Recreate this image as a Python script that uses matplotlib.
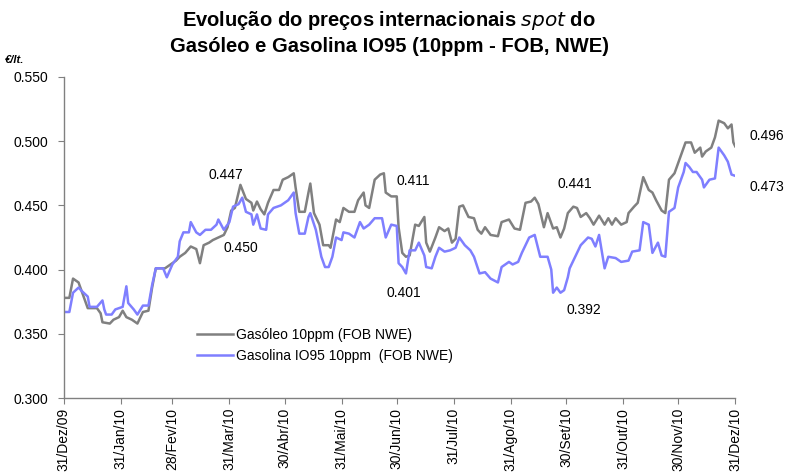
import matplotlib
matplotlib.use('Agg')
import matplotlib.pyplot as plt
import pandas as pd

plt.rcParams['font.family'] = ['Liberation Sans', 'DejaVu Sans']

START = '2009-12-31'

# days since 31/Dez/09
gasoleo_days = [
    0, 3, 5, 8, 10, 13, 18, 20, 21, 25,
    27, 30, 32, 34, 37, 40, 43, 46, 48, 50,
    55, 58, 61, 63, 66, 69, 72, 74, 76, 79,
    81, 84, 87, 89, 91, 93, 96, 99, 102, 103,
    105, 107, 109, 111, 114, 117, 119, 122, 125, 126,
    128, 131, 133, 134, 136, 139, 141, 144, 145, 148,
    150, 152, 155, 158, 160, 163, 164, 166, 169, 172,
    174, 175, 178, 181, 182, 184, 186, 188, 191, 193,
    196, 197, 199, 202, 204, 207, 209, 211, 213, 215,
    217, 220, 223, 225, 227, 229, 232, 236, 238, 242,
    245, 248, 251, 254, 256, 258, 261, 263, 266, 268,
    270, 272, 274, 277, 279, 281, 284, 286, 288, 291,
    294, 296, 298, 300, 303, 306, 307, 310, 312, 315,
    318, 320, 322, 325, 327, 329, 332, 334, 337, 338,
    341, 343, 346, 347, 349, 352, 354, 356, 359, 361,
    363, 364, 365]
gasoleo = [
    0.378, 0.378, 0.393, 0.390, 0.382, 0.370, 0.370, 0.366, 0.359, 0.358,
    0.361, 0.363, 0.368, 0.363, 0.361, 0.358, 0.367, 0.368, 0.386, 0.401,
    0.401, 0.404, 0.407, 0.410, 0.413, 0.418, 0.416, 0.405, 0.419, 0.421,
    0.423, 0.425, 0.427, 0.433, 0.446, 0.448, 0.466, 0.455, 0.452, 0.446,
    0.453, 0.447, 0.443, 0.452, 0.462, 0.462, 0.470, 0.472, 0.475, 0.464,
    0.445, 0.445, 0.460, 0.467, 0.444, 0.435, 0.419, 0.419, 0.417, 0.439,
    0.437, 0.448, 0.445, 0.445, 0.454, 0.460, 0.450, 0.448, 0.470, 0.474,
    0.475, 0.460, 0.457, 0.457, 0.433, 0.413, 0.410, 0.411, 0.435, 0.434,
    0.441, 0.421, 0.414, 0.425, 0.433, 0.430, 0.432, 0.421, 0.424, 0.449,
    0.450, 0.441, 0.440, 0.431, 0.428, 0.433, 0.427, 0.426, 0.437, 0.439,
    0.432, 0.431, 0.452, 0.453, 0.456, 0.451, 0.433, 0.444, 0.432, 0.433,
    0.425, 0.432, 0.444, 0.449, 0.448, 0.441, 0.444, 0.440, 0.435, 0.442,
    0.435, 0.440, 0.435, 0.440, 0.435, 0.437, 0.444, 0.449, 0.452, 0.472,
    0.462, 0.460, 0.454, 0.446, 0.444, 0.470, 0.475, 0.483, 0.495, 0.499,
    0.499, 0.491, 0.495, 0.488, 0.492, 0.495, 0.503, 0.516, 0.514, 0.510,
    0.513, 0.499, 0.496]

gasolina_days = [
    0, 3, 5, 8, 10, 13, 14, 18, 21, 22,
    23, 26, 28, 32, 34, 35, 38, 40, 43, 46,
    48, 50, 54, 56, 59, 62, 63, 65, 68, 69,
    72, 74, 77, 80, 83, 84, 87, 90, 92, 95,
    97, 99, 102, 103, 105, 107, 110, 111, 114, 118,
    122, 125, 126, 128, 131, 133, 134, 137, 140, 142,
    144, 146, 148, 151, 152, 155, 158, 161, 163, 166,
    169, 173, 175, 178, 181, 182, 184, 186, 188, 191,
    193, 196, 197, 200, 202, 204, 207, 210, 213, 215,
    218, 221, 223, 226, 229, 232, 236, 238, 242, 244,
    247, 249, 253, 256, 259, 263, 265, 266, 268, 270,
    272, 274, 275, 278, 281, 285, 287, 289, 291, 294,
    296, 300, 303, 307, 309, 313, 315, 318, 320, 323,
    325, 327, 329, 332, 334, 337, 338, 340, 342, 344,
    347, 348, 351, 354, 356, 359, 361, 363, 365]
gasolina = [
    0.367, 0.367, 0.382, 0.386, 0.383, 0.379, 0.371, 0.371, 0.376, 0.369,
    0.365, 0.365, 0.369, 0.371, 0.387, 0.374, 0.369, 0.365, 0.372, 0.372,
    0.388, 0.401, 0.401, 0.394, 0.404, 0.410, 0.422, 0.429, 0.429, 0.437,
    0.429, 0.427, 0.431, 0.431, 0.435, 0.439, 0.431, 0.437, 0.449, 0.451,
    0.456, 0.445, 0.443, 0.435, 0.443, 0.432, 0.431, 0.443, 0.448, 0.450,
    0.454, 0.460, 0.444, 0.428, 0.428, 0.441, 0.444, 0.431, 0.410, 0.402,
    0.402, 0.410, 0.425, 0.423, 0.429, 0.428, 0.425, 0.437, 0.432, 0.435,
    0.440, 0.440, 0.425, 0.435, 0.434, 0.405, 0.402, 0.397, 0.415, 0.415,
    0.421, 0.411, 0.402, 0.401, 0.410, 0.417, 0.414, 0.415, 0.417, 0.425,
    0.419, 0.415, 0.410, 0.397, 0.398, 0.393, 0.390, 0.402, 0.406, 0.404,
    0.406, 0.413, 0.425, 0.427, 0.410, 0.410, 0.400, 0.382, 0.386, 0.382,
    0.384, 0.394, 0.401, 0.410, 0.419, 0.425, 0.424, 0.418, 0.427, 0.401,
    0.410, 0.409, 0.406, 0.407, 0.414, 0.415, 0.437, 0.435, 0.413, 0.421,
    0.411, 0.410, 0.445, 0.448, 0.464, 0.476, 0.483, 0.480, 0.476, 0.476,
    0.470, 0.464, 0.470, 0.471, 0.495, 0.489, 0.484, 0.474, 0.473]

tick_dates = ['2009-12-31', '2010-01-31', '2010-02-28', '2010-03-31', '2010-04-30',
              '2010-05-31', '2010-06-30', '2010-07-31', '2010-08-31', '2010-09-30',
              '2010-10-31', '2010-11-30', '2010-12-31']
tick_labels = ['31/Dez/09', '31/Jan/10', '28/Fev/10', '31/Mar/10', '30/Abr/10',
               '31/Mai/10', '30/Jun/10', '31/Jul/10', '31/Ago/10', '30/Set/10',
               '31/Out/10', '30/Nov/10', '31/Dez/10']

# value labels: (text, day, y position)
labels = [('0.447', 88, 0.4737), ('0.450', 96, 0.4168), ('0.411', 190, 0.469),
          ('0.401', 185, 0.3817), ('0.441', 278, 0.4667), ('0.392', 283, 0.3685),
          ('0.496', 382, 0.504), ('0.473', 382, 0.4643)]

C_GAS = '#808080'
C_GSL = '#7F7FFF'

base = pd.Timestamp(START)
x1 = base + pd.to_timedelta(gasoleo_days, unit='D')
x2 = base + pd.to_timedelta(gasolina_days, unit='D')

fig = plt.figure(figsize=(7.88, 4.75), dpi=100)
ax = fig.add_axes([0.081, 0.162, 0.852, 0.676])

ax.plot(x1, gasoleo, color=C_GAS, lw=1.8, label='Gasóleo 10ppm (FOB NWE)')
ax.plot(x2, gasolina, color=C_GSL, lw=1.8, label='Gasolina IO95 10ppm  (FOB NWE)')

for txt, d, y in labels:
    ax.text(base + pd.Timedelta(days=d), y, txt, ha='center', va='center',
            fontsize=10, clip_on=False)

ax.set_xlim(base, pd.Timestamp('2010-12-31'))
ax.set_ylim(0.300, 0.550)
ax.set_yticks([0.30, 0.35, 0.40, 0.45, 0.50, 0.55])
ax.yaxis.set_major_formatter(matplotlib.ticker.FormatStrFormatter('%.3f'))
ax.set_xticks(pd.to_datetime(tick_dates))
ax.set_xticklabels(tick_labels, rotation=90, fontsize=10)
ax.tick_params(axis='y', labelsize=10, length=4, color='#808080', pad=7)
ax.tick_params(axis='x', length=4, color='#808080', pad=3)

for s in ['top', 'right']:
    ax.spines[s].set_visible(False)
for s in ['left', 'bottom']:
    ax.spines[s].set_color('#808080')
    ax.spines[s].set_linewidth(1.0)

ax.legend(loc='upper left', bbox_to_anchor=(0.19, 0.235), frameon=False,
          fontsize=10, handlelength=2.6, handletextpad=0.2, labelspacing=0.5,
          borderaxespad=0)

fig.text(0.494, 0.957, 'Evolução do preços internacionais $\\it{spot}$ do',
         ha='center', va='center', fontsize=14.5, fontweight='bold')
fig.text(0.494, 0.902, 'Gasóleo e Gasolina IO95 (10ppm - FOB, NWE)',
         ha='center', va='center', fontsize=14.5, fontweight='bold')
fig.text(0.006, 0.873, '€/lt.', fontsize=8, style='italic', fontweight='bold',
         va='center', ha='left')

fig.savefig('out.png', dpi=100)
